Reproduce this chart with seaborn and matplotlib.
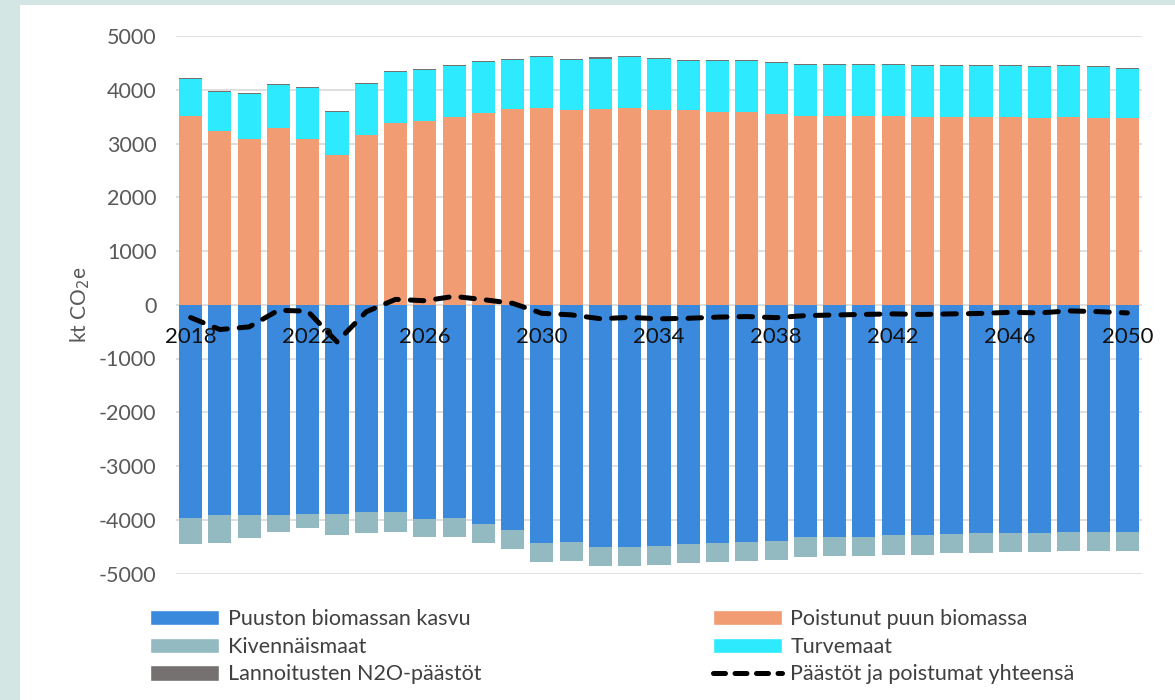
import numpy as np
import pandas as pd
import matplotlib
matplotlib.use("Agg")
import matplotlib.pyplot as plt
from matplotlib.patches import Rectangle, Patch
from matplotlib.lines import Line2D
import seaborn as sns

years = [str(y) for y in range(2018, 2051)]

poistunut = [3517, 3230, 3089, 3281, 3089, 2779, 3163, 3374, 3424, 3491, 3565, 3634, 3658,
             3615, 3634, 3658, 3615, 3615, 3590, 3590, 3541, 3517, 3517, 3517, 3517, 3491,
             3491, 3491, 3491, 3472, 3491, 3472, 3472]
turvemaat = [681, 732, 830, 805, 944, 806, 942, 947, 947, 954, 949, 923, 949,
             942, 947, 949, 948, 923, 948, 948, 948, 947, 947, 947, 947, 948,
             948, 948, 948, 942, 948, 942, 917]
lannoitus = [20, 20, 20, 20, 10, 20, 20, 20, 20, 20, 20, 20, 20,
             20, 20, 20, 20, 20, 20, 20, 20, 20, 20, 20, 20, 20,
             20, 20, 20, 20, 20, 20, 20]
puuston_kasvu = [-3963, -3913, -3913, -3913, -3888, -3888, -3863, -3863, -3987, -3963, -4080,
                 -4197, -4433, -4414, -4507, -4507, -4483, -4458, -4433, -4414, -4390, -4322,
                 -4322, -4322, -4291, -4291, -4266, -4247, -4247, -4247, -4223, -4223, -4223]
kivennaismaat = [-494, -520, -427, -310, -260, -402, -384, -360, -329, -353, -353, -354, -353,
                 -354, -354, -354, -353, -353, -353, -354, -353, -371, -353, -353, -359, -359,
                 -359, -378, -353, -353, -353, -353, -353]
yhteensa = [-238, -461, -412, -102, -120, -691, -130, 100, 75, 156, 95, 27, -160,
            -188, -260, -235, -262, -252, -230, -220, -240, -202, -190, -180, -170, -180,
            -170, -162, -140, -152, -114, -128, -152]

labels = ["Puuston biomassan kasvu", "Poistunut puun biomassa", "Kivennäismaat",
          "Turvemaat", "Lannoitusten N2O-päästöt", "Päästöt ja poistumat yhteensä"]
c_blue = "#3b89dd"
c_orange = "#f19c72"
c_teal = "#93bac0"
c_cyan = "#2eeaff"
c_gray = "#767171"

sns.set_theme(style="white")
plt.rcParams['font.family'] = ['Lato', 'DejaVu Sans']
plt.rcParams['axes.unicode_minus'] = False

fig = plt.figure(figsize=(11.75, 7), dpi=100)
fig.patch.set_facecolor("#d3e6e4")
fig.patches.append(Rectangle((20 / 1175, 0), 1, 695 / 700, transform=fig.transFigure,
                             facecolor="white", edgecolor="none", zorder=-10))
ax = fig.add_axes([176 / 1175, 1 - 573.5 / 700, (1142 - 176) / 1175, (573.5 - 36) / 700])
ax.set_facecolor("none")

df = pd.DataFrame({"year": years, "poistunut": poistunut, "turvemaat": turvemaat,
                   "lannoitus": lannoitus, "kasvu": puuston_kasvu, "kiv": kivennaismaat})
pos_bottom2 = np.array(poistunut) + np.array(turvemaat)
w = 0.79
common = dict(x="year", errorbar=None, saturation=1, width=w, ax=ax, linewidth=0)
sns.barplot(data=df, y="poistunut", color=c_orange, **common)
sns.barplot(data=df, y="turvemaat", color=c_cyan, bottom=np.array(poistunut), **common)
sns.barplot(data=df, y="lannoitus", color=c_gray, bottom=pos_bottom2, **common)
sns.barplot(data=df, y="kasvu", color=c_blue, **common)
sns.barplot(data=df, y="kiv", color=c_teal, bottom=np.array(puuston_kasvu), **common)

sns.lineplot(x=np.arange(len(years)), y=yhteensa, ax=ax, color="black", linewidth=3.6)
ln = ax.lines[-1]
ln.set_dashes((2.7, 2.4))
ln.set_dash_capstyle("round")
ln.set_zorder(5)

ax.set_xlim(-0.5, len(years) - 0.5)
ax.set_ylim(-5000, 5000)
ax.set_yticks(np.arange(-5000, 5001, 1000))
ax.yaxis.grid(True, color="#d9d9d9", linewidth=1.2)
ax.xaxis.grid(False)
ax.set_axisbelow(True)
ax.xaxis.set_zorder(6)
for s in ["top", "right", "left"]:
    ax.spines[s].set_visible(False)
ax.spines["bottom"].set_position(("data", 0))
ax.spines["bottom"].set_visible(False)
ax.set_xticks(range(0, len(years), 4))
ax.set_xticklabels(years[::4])
ax.tick_params(axis="x", length=0, pad=16, labelsize=16, labelcolor="#111111")
ax.tick_params(axis="y", length=0, pad=14, labelsize=15.5, labelcolor="#595959")
ax.set_xlabel("")
ax.set_ylabel("kt CO$_2$e", fontsize=15, color="#595959", labelpad=5)

h1 = [Patch(facecolor=c_blue, label=labels[0]),
      Patch(facecolor=c_teal, label=labels[2]),
      Patch(facecolor=c_gray, label=labels[4])]
h2 = [Patch(facecolor=c_orange, label=labels[1]),
      Patch(facecolor=c_cyan, label=labels[3]),
      Line2D([0], [0], color="black", lw=3.6, dashes=(2.4, 1.9), dash_capstyle="round",
             label=labels[5])]
lk = dict(frameon=False, fontsize=15.5, handlelength=3.2, handleheight=0.7,
          handletextpad=0.4, labelspacing=0.36, borderpad=0, borderaxespad=0,
          loc="upper left", labelcolor="#404040")
leg1 = fig.legend(handles=h1, bbox_to_anchor=(150 / 1175, 1 - 609 / 700), **lk)
leg2 = fig.legend(handles=h2, bbox_to_anchor=(713 / 1175, 1 - 609 / 700), **lk)

fig.savefig("out.png", dpi=100, facecolor=fig.get_facecolor())
